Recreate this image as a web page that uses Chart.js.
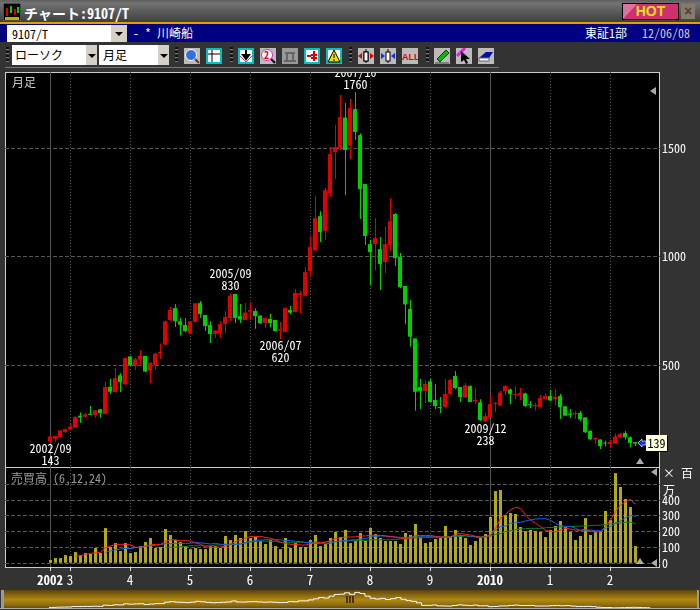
<!DOCTYPE html>
<html>
<head>
<meta charset="utf-8">
<script src="https://cdn.jsdelivr.net/npm/chart.js@4"></script>
<style>
html, body { margin: 0; padding: 0; background: #333; }
body { position: relative; width: 700px; height: 610px; overflow: hidden; font: 12px "Noto Sans Mono CJK JP", "Noto Sans CJK JP", sans-serif; color: #fff; }
.abs, canvas { position: absolute; }
.titlebar { left: 0; top: 0; width: 700px; height: 22px; background: linear-gradient(#5e5e5e, #727272 15%, #3e3e3e); }
.titletext { left: 24px; top: 3px; font-size: 14px; font-weight: bold; }
.hot { left: 622px; top: 3px; width: 55px; height: 15px; border: 1px solid #000; background: #d03070; color: #e8e020; font: bold 14px/15px "Liberation Sans"; text-align: center; }
.close { left: 681px; top: 4px; width: 14px; height: 15px; background: #8a7a6a; color: #444; font: bold 14px/15px "Liberation Sans"; text-align: center; }
.navy { left: 0; top: 24px; width: 700px; height: 18px; background: #000080; border-top: 0; line-height: 18px; }
.orange { left: 0; top: 22px; width: 700px; height: 2px; background: #e0a000; }
.box { background: #fff; color: #000; line-height: 18px; }
.btn { background: #d4d0c8; }
.down { width: 0; height: 0; border: 4px solid transparent; border-top: 4px solid #000; border-bottom: 0; }
.grip { top: 47px; width: 3px; height: 16px; background: repeating-linear-gradient(#111 0 2px, #777 2px 3px, #333 3px 4px); }
.ic { top: 48px; width: 16px; height: 16px; }
.panel { left: 5px; width: 653px; background: #000; border: 1px solid #ccc; }
.tri-l { width: 0; height: 0; border: 4px solid transparent; border-right: 6px solid #aaa; border-left: 0; }
.tri-u { width: 0; height: 0; border: 4px solid transparent; border-bottom: 6px solid #aaa; border-top: 0; }
.strip { left: 1px; top: 590px; width: 698px; height: 18px; background: linear-gradient(#5c4208, #8a6a10 30%, #b08810 55%, #8a6a10 85%, #6a4e0a); }
.handle { top: 596px; width: 2px; height: 7px; background: #4a3408; }
</style>
</head>
<body>
<div class="abs titlebar"></div>
<svg class="abs" style="left:3px;top:3px" width="18" height="18"><rect width="18" height="18" fill="#000" stroke="#999"/><rect x="3" y="5" width="2" height="8" fill="#e00000"/><rect x="7" y="3" width="2" height="7" fill="#00d000"/><rect x="11" y="6" width="2" height="6" fill="#e00000"/><rect x="14" y="4" width="2" height="6" fill="#00d000"/><rect x="2" y="14" width="14" height="3" fill="#c0b000"/></svg>
<div class="abs titletext">チャート:9107/T</div>
<div class="abs hot">HOT</div>
<svg class="abs" style="left:623px;top:4px" width="14" height="15"><path d="M0 0H14L0 15Z" fill="#e070a0"/></svg>
<div class="abs close">×</div>
<div class="abs orange"></div>
<div class="abs navy"></div>
<div class="abs box" style="left:7px;top:25px;width:99px;height:17px;padding-left:5px">9107/T</div>
<div class="abs btn" style="left:111px;top:25px;width:16px;height:17px"><div class="abs down" style="left:4px;top:7px"></div></div>
<div class="abs" style="left:133px;top:24px;line-height:18px">- * 川崎船</div>
<div class="abs" style="left:585px;top:24px;line-height:18px">東証1部</div>
<div class="abs" style="left:642px;top:24px;line-height:18px;color:#ccc">12/06/08</div>

<div class="abs grip" style="left:6px"></div>
<div class="abs box" style="left:12px;top:45px;width:71px;height:20px;padding-left:3px;line-height:20px">ローソク</div>
<div class="abs btn" style="left:86px;top:45px;width:11px;height:20px"><div class="abs down" style="left:2px;top:9px"></div></div>
<div class="abs box" style="left:99px;top:45px;width:56px;height:20px;padding-left:4px;line-height:20px">月足</div>
<div class="abs btn" style="left:158px;top:45px;width:11px;height:20px"><div class="abs down" style="left:2px;top:9px"></div></div>
<div class="abs grip" style="left:175px"></div>
<svg class="abs ic" style="left:184px"><rect width="16" height="16" fill="#bbb"/><circle cx="7" cy="7" r="5.5" fill="#3070e0" stroke="#fff"/><path d="M11 11L15 15" stroke="#803000" stroke-width="2"/></svg>
<svg class="abs ic" style="left:206px"><rect x="1" y="1" width="14" height="14" fill="#fff" stroke="#00c0c0" stroke-width="2"/><path d="M2 6H14M6 2V14" stroke="#000"/></svg>
<div class="abs grip" style="left:230px"></div>
<svg class="abs ic" style="left:238px"><rect x="1" y="1" width="14" height="14" fill="#fff" stroke="#00c0c0" stroke-width="2"/><path d="M8 2V8M5 7L8 11L11 7Z" stroke="#000" stroke-width="2"/><path d="M2 8L8 14L14 8" stroke="#d04060" fill="none"/></svg>
<svg class="abs ic" style="left:260px"><rect width="16" height="16" fill="#bbb"/><circle cx="7" cy="7" r="5.5" fill="#fff" stroke="#e020e0"/><text x="4" y="11" font-size="10" fill="#e00000" font-weight="bold">2</text><path d="M11 11L15 15" stroke="#000" stroke-width="2"/></svg>
<svg class="abs ic" style="left:282px"><rect width="16" height="16" fill="#999"/><path d="M2 13H14M5 5V13M11 5V13M3 5H13" stroke="#666" stroke-width="2"/></svg>
<svg class="abs ic" style="left:304px"><rect x="1" y="1" width="14" height="14" fill="#fff" stroke="#00c0c0" stroke-width="2"/><path d="M10 3V13M7 7H13M7 10H13M3 8H7" stroke="#e00000" stroke-width="2"/></svg>
<svg class="abs ic" style="left:326px"><rect x="1" y="1" width="14" height="14" fill="#fff" stroke="#00c0c0" stroke-width="2"/><path d="M8 2L14 14H2Z" fill="#f0e000" stroke="#000"/><path d="M8 6V10M8 11V13" stroke="#000"/></svg>
<div class="abs grip" style="left:349px"></div>
<svg class="abs ic" style="left:358px"><rect width="16" height="16" fill="#bbb"/><rect x="6" y="4" width="4" height="9" fill="#fff" stroke="#000"/><path d="M8 1V15" stroke="#000"/><path d="M0 8L4 5V11ZM16 8L12 5V11Z" fill="#e00000"/><rect x="6" y="4" width="4" height="9" fill="#fff" stroke="#000"/></svg>
<svg class="abs ic" style="left:380px"><rect width="16" height="16" fill="#bbb"/><path d="M8 1V15" stroke="#000"/><path d="M5 8L1 5V11ZM11 8L15 5V11Z" fill="#1030e0"/><rect x="6" y="4" width="4" height="9" fill="#fff" stroke="#000"/></svg>
<svg class="abs ic" style="left:402px"><rect width="16" height="16" fill="#bbb"/><text x="0" y="12" font-size="9" font-weight="bold" fill="#e00000" font-family="Liberation Sans">ALL</text></svg>
<div class="abs grip" style="left:426px"></div>
<svg class="abs ic" style="left:434px"><rect width="16" height="16" fill="#bbb"/><path d="M3 11L12 2L15 5L6 14Z" fill="#10b010" stroke="#004000"/><path d="M1 15H15" stroke="#444"/></svg>
<svg class="abs ic" style="left:456px"><rect width="16" height="16" fill="#bbb"/><path d="M1 8L9 0" stroke="#e020e0" stroke-width="3"/><path d="M5 3L14 11H10L12 15L10 16L8 12L5 14Z" fill="#000"/></svg>
<svg class="abs ic" style="left:478px"><rect width="16" height="16" fill="#bbb"/><path d="M1 10L8 4H15L11 10Z" fill="#0010a0"/><path d="M1 10H11V13H1Z" fill="#fff" stroke="#666"/></svg>
<div class="abs" style="left:5px;top:67px;width:494px;height:1px;background:#777"></div>

<div class="abs panel" style="top:72px;height:394px"></div>
<div class="abs panel" style="top:467px;height:99px"></div>
<canvas id="priceChart" width="695" height="395" style="left:5px;top:72px"></canvas>
<canvas id="volumeChart" width="695" height="123" style="left:5px;top:467px"></canvas>

<div class="abs" style="left:12px;top:73px;color:#ccc">月足</div>
<div class="abs" style="left:11px;top:469px;color:#999">売買高 (6,12,24)</div>
<div class="abs tri-l" style="left:650px;top:87px"></div>
<div class="abs tri-u" style="left:636px;top:458px"></div>
<div class="abs tri-l" style="left:651px;top:468px"></div>
<div class="abs tri-u" style="left:636px;top:558px"></div>
<div class="abs tri-l" style="left:651px;top:559px"></div>
<div class="abs" style="left:663px;top:464px">× 百万</div>
<svg class="abs" style="left:638px;top:438px" width="8" height="10"><path d="M0 5L4 1V3H8V7H4V9Z" fill="#1030ff" stroke="#fff" stroke-width=".6"/></svg>
<div class="abs" style="left:646px;top:435px;width:21px;height:16px;background:#ffffe0;color:#000;text-align:center;line-height:16px;box-shadow:1px 1px 0 #000">139</div>

<div class="abs strip"></div>
<div class="abs" style="left:1px;top:590px;width:3px;height:18px;background:#999"></div>
<div class="abs" style="left:697px;top:590px;width:2px;height:18px;background:#999"></div>
<div class="abs" style="left:0;top:608px;width:700px;height:1px;background:#aaa"></div>
<canvas id="overviewChart" width="700" height="18" style="left:0;top:590px"></canvas>
<div class="abs handle" style="left:346px"></div>
<div class="abs handle" style="left:349px"></div>
<div class="abs handle" style="left:352px"></div>

<script>
// monthly candles, 2002/09 to 2012/06
const opens = [149,161,169,192,206,212,268,262,274,271,297,275,400,377,454,412,541,500,526,543,
  475,501,554,595,709,764,703,686,647,700,787,732,686,644,650,690,718,829,727,709,
  747,751,729,695,714,709,660,654,755,746,824,821,935,1030,1188,1119,1295,1484,1502,1643,
  1514,1682,1562,1336,1059,1059,1036,976,1055,1198,999,866,760,624,400,381,426,340,307,307,
  368,451,400,352,404,334,329,241,262,321,315,380,389,363,364,371,320,311,306,344,
  358,343,358,311,276,274,280,260,197,158,158,141,137,139,169,188,168,146];
const highs = [176,175,202,209,229,265,282,281,312,294,298,423,437,488,464,534,542,534,571,543,
  514,559,601,707,769,783,720,718,703,789,797,732,703,663,703,750,830,830,783,789,
  791,763,732,718,738,709,700,768,774,852,843,953,1095,1281,1211,1318,1507,1608,1747,1710,
  1728,1760,1570,1336,1078,1179,1092,1142,1271,1202,1018,866,801,624,437,432,438,414,354,437,
  437,474,400,418,408,395,343,280,358,331,381,409,392,404,395,374,335,329,363,372,
  386,391,368,311,298,288,289,261,201,168,158,152,155,186,188,197,172,146];
const lows = [143,146,168,188,202,211,234,258,271,258,258,274,368,374,377,409,497,478,497,469,
  418,478,529,591,703,677,637,652,643,697,720,658,603,626,626,649,704,695,695,708,
  709,669,691,672,675,655,620,652,734,744,738,820,910,1027,1068,1078,1276,1359,1493,1285,
  1451,1539,1175,1055,870,939,847,925,1027,958,856,690,586,291,298,326,331,298,280,301,
  363,391,331,349,331,321,243,238,262,285,312,363,321,344,340,308,303,291,305,343,
  334,315,252,266,257,252,243,188,158,137,114,126,121,137,165,158,122,128];
const closes = [172,174,200,206,217,262,259,274,272,292,280,400,378,441,423,534,500,528,543,471,
  511,554,561,703,755,704,687,658,703,786,737,681,644,660,690,723,821,718,711,743,
  755,727,694,718,695,658,667,764,743,834,832,930,1045,1179,1115,1308,1474,1507,1645,1493,
  1687,1576,1313,1096,1022,1087,967,1059,1165,995,861,781,632,378,381,414,331,312,303,368,
  432,395,354,408,331,340,248,266,321,325,374,405,368,367,372,312,315,317,349,358,
  338,355,306,268,272,280,251,191,158,165,128,139,146,172,183,168,142,139];

// volume in millions and its 6, 12, 24 month averages
const volumes = [21,33,33,52,46,71,52,65,59,97,65,223,103,128,78,128,65,71,109,135,
  160,97,103,217,179,147,135,109,90,97,90,90,109,109,97,173,147,179,160,204,
  160,166,141,122,147,109,90,160,97,128,103,103,147,179,109,122,160,198,166,211,
  128,141,192,141,223,185,160,141,141,141,122,192,179,249,166,128,135,154,160,236,
  166,211,180,160,116,141,160,185,293,457,464,305,318,312,230,204,211,204,198,166,
  211,236,268,230,198,147,173,286,179,198,198,331,274,571,483,407,356,109];
const avg6 = [null,null,null,null,null,44,48,57,63,67,69,101,109,120,120,120,116,101,99,109,
  116,120,120,137,149,149,143,143,141,130,120,105,101,101,103,109,122,137,147,158,
  170,170,170,164,158,147,133,126,120,120,116,116,124,130,130,133,145,156,162,166,
  166,168,173,173,177,177,177,173,168,166,158,154,158,175,177,175,177,170,166,166,
  166,185,189,183,179,170,164,168,183,221,284,310,337,354,348,306,274,253,232,208,
  202,200,210,221,217,210,210,217,204,198,200,232,274,327,369,390,405,373];
const avg12 = [null,null,null,null,null,null,null,null,null,null,null,69,78,86,90,94,94,99,103,109,
  111,113,118,124,124,126,126,126,128,130,130,126,122,126,120,120,122,120,120,133,
  137,145,147,149,149,149,149,145,143,139,137,130,130,126,124,124,126,137,141,145,
  147,149,154,156,166,170,173,173,170,166,164,164,166,166,168,168,168,166,166,164,
  166,175,177,175,170,166,164,168,175,211,232,236,253,257,259,268,274,280,282,282,
  272,253,238,234,234,221,206,206,211,206,206,221,232,253,268,289,303,297];
const avg24 = [null,null,null,null,null,null,null,null,null,null,null,null,null,null,null,null,null,null,null,null,
  null,null,null,99,101,103,105,107,111,111,111,111,111,116,116,118,118,120,124,128,
  135,139,141,141,139,137,133,133,133,133,133,133,133,133,133,135,135,137,139,141,
  143,143,145,145,149,149,149,149,149,151,154,156,158,162,162,162,164,166,166,168,
  170,170,170,173,170,170,168,168,173,183,189,200,206,213,217,219,221,221,221,225,
  227,227,230,230,232,234,236,236,238,240,242,246,249,253,255,259,261,251];

// axis ticks, as candle positions
const yearTicks = [0,4,16,28,40,52,64,76,88,100,112];
const yearLabels = ['2002','3','4','5','6','7','8','9','2010','1','2'];
const boldYears = ['2002','2010'];
const priceTicks = [500,1000,1500];
const volumeTicks = [0,100,200,300,400,500];
const volumeLabels = ['0','100','200','300','400',''];

// high and low marks on the price chart
const markIndex = [0,36,46,61,87];
const markDates = ['2002/09','2005/09','2006/07','2007/10','2009/12'];
const markValues = [143,830,620,1760,238];
const markIsHigh = [false,true,false,true,false];

const fontFamily = '"Noto Sans Mono CJK JP", "Noto Sans CJK JP", sans-serif';
const gridColor = '#555';
const upColor = '#e00000';
const downColor = '#00d000';
const barColor = '#b3a914';

Chart.defaults.font.family = fontFamily;
Chart.defaults.font.size = 12;
Chart.defaults.color = '#fff';

const candleColors = opens.map((o, i) => closes[i] >= o ? upColor : downColor);
const points = (list) => list.map((v, i) => ({ x: i, y: v }));

function forceTicks(list) {
    return (scale) => { scale.ticks = list.map(v => ({ value: v })); };
}

function noPadding(scale) {
    scale.paddingLeft = scale.paddingRight = scale.paddingTop = scale.paddingBottom = 0;
}

// vertical grid and the two x scales shared by both panels
function xScales(height) {
    const dotted = yearTicks.filter((t, i) => !boldYears.includes(yearLabels[i]));
    return {
        x: {
            axis: 'x', type: 'linear', min: -9, max: 122, offset: false,
            afterBuildTicks: forceTicks(dotted),
            grid: { offset: false, color: gridColor, drawTicks: false },
            border: { display: false, dash: [1, 2] },
            ticks: { display: false },
            afterFit: (s) => { s.height = 0; noPadding(s); }
        },
        xYear: {
            axis: 'x', type: 'linear', min: -9, max: 122, offset: false,
            afterBuildTicks: forceTicks(boldYears.map(y => yearTicks[yearLabels.indexOf(y)])),
            grid: { offset: false, color: gridColor, drawTicks: false },
            border: { display: false },
            ticks: { display: false },
            afterFit: (s) => { s.height = 0; noPadding(s); }
        },
        // half a pixel to the right, so that 1px and 3px bars land on whole pixels
        xShift: { axis: 'x', type: 'linear', min: -9.1, max: 121.9, offset: false, display: false, grid: { offset: false } },
        xLabels: {
            axis: 'x', type: 'linear', min: -9, max: 122, offset: false, display: height > 0,
            afterBuildTicks: forceTicks(yearTicks),
            grid: { offset: false, drawOnChartArea: false, tickLength: 4, tickColor: '#ddd' },
            border: { display: false },
            ticks: {
                autoSkip: false, maxRotation: 0, padding: 1, color: '#fff',
                callback: (v, i) => yearLabels[i],
                font: (ctx) => ({ family: fontFamily, size: 13, weight: ctx.index === 0 || ctx.index === 8 ? 'bold' : 'normal' })
            },
            afterFit: (s) => { s.height = height; noPadding(s); }
        }
    };
}

function yScale(min, max, ticks, labels) {
    return {
        position: 'right', min: min, max: max,
        afterBuildTicks: forceTicks(ticks),
        grid: { color: gridColor, drawTicks: false },
        border: { display: false, dash: [4, 2] },
        ticks: {
            crossAlign: 'near', padding: 2, color: '#fff', autoSkip: false,
            font: { family: fontFamily, size: 12 },
            callback: (v, i) => labels[i]
        },
        afterFit: (s) => { s.width = 40; noPadding(s); }
    };
}

const markLabels = {
    id: 'markLabels',
    afterDatasetsDraw(chart) {
        const { ctx, chartArea, scales } = chart;
        ctx.save();
        ctx.beginPath();
        ctx.rect(chartArea.left, chartArea.top + 1, chartArea.width, chartArea.height);
        ctx.clip();
        ctx.fillStyle = '#fff';
        ctx.font = '12px ' + fontFamily;
        ctx.textAlign = 'center';
        ctx.textBaseline = 'middle';
        markIndex.forEach((idx, i) => {
            const x = scales.xShift.getPixelForValue(idx);
            const y = scales.y.getPixelForValue(markValues[i]);
            const first = markIsHigh[i] ? y - 20 : y + 6;
            ctx.fillText(markDates[i], x, first);
            ctx.fillText(String(markValues[i]), x, first + 12);
        });
        ctx.restore();
    }
};

new Chart(document.getElementById('priceChart'), {
    type: 'bar',
    data: {
        datasets: [
            {
                label: 'body', xAxisID: 'x',
                data: opens.map((o, i) => ({ x: i, y: [o, closes[i]] })),
                backgroundColor: candleColors, barThickness: 4, minBarLength: 1,
                inflateAmount: 0, grouped: false, order: 1
            },
            {
                label: 'wick', xAxisID: 'xShift',
                data: lows.map((l, i) => ({ x: i, y: [l, highs[i]] })),
                backgroundColor: candleColors, barThickness: 1,
                inflateAmount: 0, grouped: false, order: 2
            }
        ]
    },
    options: {
        responsive: false, animation: false, devicePixelRatio: 1,
        layout: { padding: 0 },
        plugins: { legend: { display: false }, tooltip: { enabled: false } },
        scales: Object.assign(xScales(0), { y: yScale(31, 1853, priceTicks, priceTicks.map(String)) })
    },
    plugins: [markLabels]
});

new Chart(document.getElementById('volumeChart'), {
    type: 'bar',
    data: {
        datasets: [
            { type: 'line', label: '6', xAxisID: 'xShift', data: points(avg6), borderColor: '#ff2020', borderWidth: 1, pointRadius: 0, order: 1 },
            { type: 'line', label: '12', xAxisID: 'xShift', data: points(avg12), borderColor: '#1060ff', borderWidth: 1, pointRadius: 0, order: 2 },
            { type: 'line', label: '24', xAxisID: 'xShift', data: points(avg24), borderColor: '#108010', borderWidth: 1, pointRadius: 0, order: 3 },
            { label: 'volume', xAxisID: 'xShift', data: points(volumes), backgroundColor: barColor, barThickness: 3, inflateAmount: 0, grouped: false, order: 4 }
        ]
    },
    options: {
        responsive: false, animation: false, devicePixelRatio: 1,
        layout: { padding: 0 },
        plugins: { legend: { display: false }, tooltip: { enabled: false } },
        scales: Object.assign(xScales(23), { y: yScale(-23.4, 609.5, volumeTicks, volumeLabels) })
    }
});

// small overview line at the bottom
new Chart(document.getElementById('overviewChart'), {
    type: 'line',
    data: { datasets: [{ data: points(closes), borderColor: '#fff', borderWidth: 1, pointRadius: 0, stepped: 'middle' }] },
    options: {
        responsive: false, animation: false, devicePixelRatio: 1,
        layout: { padding: 0 },
        plugins: { legend: { display: false }, tooltip: { enabled: false } },
        scales: {
            x: { type: 'linear', min: -9.54, max: 126.7, display: false },
            y: { min: 113, max: 1931, display: false }
        }
    }
});
</script>
</body>
</html>
